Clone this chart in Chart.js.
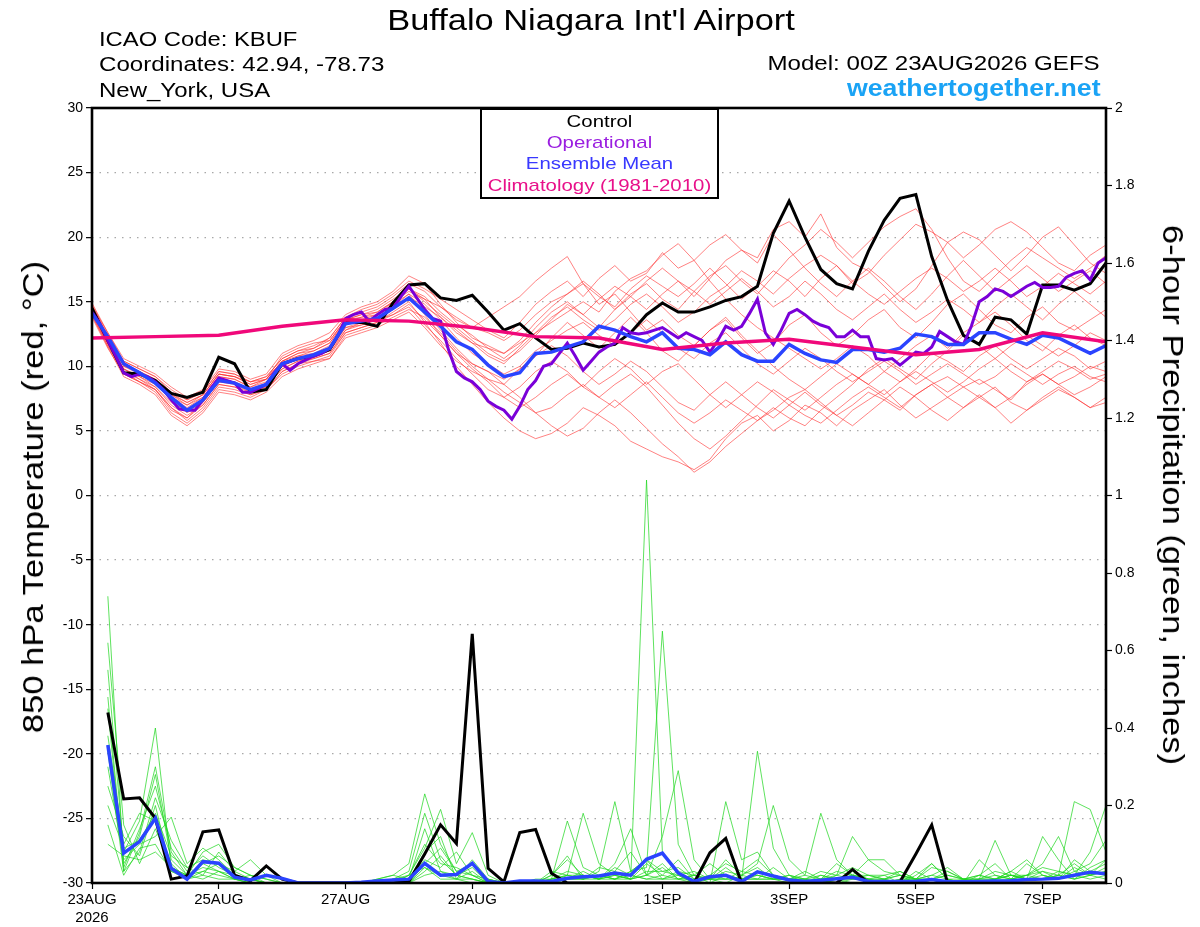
<!DOCTYPE html>
<html><head><meta charset="utf-8">
<script src="https://cdn.jsdelivr.net/npm/chart.js@4.4.1/dist/chart.umd.min.js"></script>
<style>
html,body{margin:0;padding:0;background:#fff;}
#wrap{position:relative;width:1200px;height:927px;overflow:hidden;font-family:'Liberation Sans',Arial,sans-serif;color:#000;background:#fff;}
#c{position:absolute;left:0;top:0;}
.t{position:absolute;white-space:nowrap;line-height:1;}
.l{transform-origin:left center;}
.r{transform-origin:right center;}
.m{transform-origin:center center;}
#legend{position:absolute;left:480px;top:108px;width:239px;height:91px;box-sizing:border-box;border:2px solid #000;background:#fff;}
</style></head><body>
<div id="wrap">
<canvas id="c" width="1200" height="927"></canvas>
<div class="t m" style="left:0;width:1182px;text-align:center;top:4.6px;font-size:30px;transform:scaleX(1.147);">Buffalo Niagara Int'l Airport</div>
<div class="t l" style="left:99px;top:29px;font-size:20px;transform:scaleX(1.19);">ICAO Code: KBUF</div>
<div class="t l" style="left:99px;top:54px;font-size:20px;transform:scaleX(1.205);">Coordinates: 42.94, -78.73</div>
<div class="t l" style="left:99px;top:80px;font-size:20px;transform:scaleX(1.2);">New_York, USA</div>
<div class="t r" style="right:100px;top:53px;font-size:20px;transform:scaleX(1.205);">Model: 00Z 23AUG2026 GEFS</div>
<div class="t r" style="right:99px;top:76.5px;font-size:23px;font-weight:bold;transform:scaleX(1.16);color:#1aa3f5;">weathertogether.net</div>
<div id="legend"></div>
<div class="t m" style="left:480px;width:239px;text-align:center;top:112.6px;font-size:17px;transform:scaleX(1.2);color:#000;">Control</div>
<div class="t m" style="left:480px;width:239px;text-align:center;top:133.6px;font-size:17px;transform:scaleX(1.2);color:#9a1ee0;">Operational</div>
<div class="t m" style="left:480px;width:239px;text-align:center;top:155.1px;font-size:17px;transform:scaleX(1.2);color:#3838ff;">Ensemble Mean</div>
<div class="t m" style="left:480px;width:239px;text-align:center;top:176.6px;font-size:17px;transform:scaleX(1.2);color:#e8108a;">Climatology (1981-2010)</div>
<div class="t" style="left:32.6px;top:496.5px;font-size:30px;transform:translate(-50%,-50%) rotate(-90deg) scaleX(1.152);">850 hPa Temperature (red, °C)</div>
<div class="t" style="left:1173.4px;top:495px;font-size:30px;transform:translate(-50%,-50%) rotate(90deg) scaleX(1.153);">6-hour Precipitation (green, inches)</div>
</div>
<script>
// ---------- categories / ticks ----------
const HOURS6 = Array.from({length:65},(_, i)=>i*6);     // 00Z 23AUG2026 + 0..384 h
const HOURS3 = Array.from({length:129},(_, i)=>i*3);    // operational run, 3-hourly
const HOURS_DAILY = Array.from({length:17},(_, i)=>i*24);
const PRECIP_HOURS = HOURS6.slice(1);                   // 6-hour totals end at 6..384 h
const X_TICK_HOURS = [0,48,96,144,216,264,312,360];
const X_TICK_LABELS = [["23AUG","2026"],"25AUG","27AUG","29AUG","1SEP","3SEP","5SEP","7SEP"];

// ---------- 850 hPa temperature (°C) ----------
const CONTROL_T = [
 14.5,12.0,9.5,9.4,8.9, 7.9,7.6,8.0,10.7,10.2, 8.0,8.2,10.2,10.6,10.8, 11.3,13.4,13.4,13.1,14.9,
 16.3,16.4,15.3,15.1,15.5, 14.2,12.8,13.3,12.2,11.3, 11.4,11.8,11.5,11.7,12.6, 14.0,14.9,14.2,14.2,14.6,
 15.1,15.4,16.2,20.3,22.8, 20.0,17.5,16.4,16.0,18.9, 21.3,23.0,23.3,18.5,15.1, 12.4,11.7,13.8,13.6,12.5,
 16.3,16.3,15.9,16.4,18.0];
const MEAN_T = [
 14.1,12.3,10.2,9.5,8.7, 7.6,6.6,7.4,8.9,8.7, 8.2,8.6,10.2,10.6,10.9, 11.4,13.3,13.5,13.7,14.5,
 15.3,14.2,13.1,11.9,11.3, 10.1,9.2,9.5,11.0,11.1, 11.5,11.9,13.1,12.8,12.3, 11.9,12.6,11.4,11.3,10.9,
 11.9,10.9,10.4,10.4,11.7, 11.0,10.5,10.3,11.3,11.3, 11.1,11.4,12.5,12.3,11.7, 11.7,12.6,12.6,12.1,11.7,
 12.4,12.2,11.6,11.0,11.6];
const OPER_T = [
 14.2,13.3,12.0,10.8,9.5,9.2,9.4,9.2,
 8.8,8.2,7.4,6.7,6.6,6.6,7.4,8.3,
 9.1,8.9,8.7,8.0,8.0,8.3,8.6,9.5,
 10.2,9.7,10.2,10.5,10.8,11.0,11.4,12.3,
 13.7,14.0,14.2,13.5,14.0,14.4,14.5,15.4,
 16.2,15.3,14.4,13.7,13.5,11.3,9.6,9.1,
 8.8,8.2,7.3,6.9,6.6,5.9,6.9,8.2,
 8.9,10.0,10.2,11.0,11.8,10.8,9.7,10.4,
 11.1,11.5,11.8,13.0,12.6,12.5,12.6,12.8,
 13.0,12.6,12.2,12.6,12.3,12.0,11.1,12.0,
 13.1,12.8,13.1,14.1,15.2,12.6,11.7,12.8,
 14.1,14.4,14.0,13.5,13.2,13.0,12.3,12.3,
 12.8,12.3,12.3,10.6,10.5,10.6,10.1,10.6,
 11.1,11.0,11.5,12.7,12.3,11.9,11.7,13.1,
 15.0,15.4,16.0,15.8,15.4,15.8,16.2,16.5,
 16.1,16.1,16.2,16.9,17.2,17.4,16.7,18.0,
 18.4];
const CLIM_T = [12.2,12.3,12.4,13.1,13.6,13.5,13.0,12.3,12.2,11.3,11.8,12.1,11.5,10.9,11.3,12.6,11.9];

const MEMBER_T1 = [14.8,12.4,10.1,9.6,9.0, 7.9,7.2,7.8,9.4,9.2, 8.8,9.2,10.6,11.2,11.6, 12.2,13.8,14.4,14.8,15.6, 16.6,16.0,15.2,14.4,13.6, 12.8,12.2,13.4,14.8,15.8, 16.6,15.4,16.8,17.8,16.6, 17.2,18.8,17.6,18.2,19.4, 20.2,19.0,18.4,20.6,21.2, 20.0,21.8,19.2,18.0,17.4, 16.2,15.0,16.0,17.8,19.6, 20.4,19.8,18.6,17.4,18.6, 20.0,20.8,19.4,18.0,17.2];
const MEMBER_T2 = [14.2,11.6,9.6,9.0,8.2, 6.8,5.8,6.8,8.4,8.2, 7.8,8.2,9.6,10.2,10.4, 10.8,12.6,13.0,13.4,14.2, 15.0,13.4,11.8,10.0,8.6, 7.2,6.0,5.0,4.4,4.8, 5.6,6.8,6.2,5.4,4.2, 3.6,3.0,2.6,2.0,2.8, 4.4,5.6,6.2,5.0,5.8, 7.0,6.4,5.4,6.6,7.4, 8.2,7.0,6.0,6.8,7.6, 8.4,9.0,8.2,7.4,8.8, 9.4,8.6,9.2,10.0,9.6];
const MEMBER_T3 = [14.6,12.2,10.4,9.8,9.2, 8.2,7.4,8.0,9.6,9.4, 8.8,9.0,10.8,11.4,11.8, 12.0,13.6,13.8,14.0,15.0, 15.8,15.2,14.6,13.6,13.0, 13.8,14.6,15.4,16.6,17.6, 18.5,16.4,14.8,15.6,14.2, 12.8,13.6,12.4,11.6,12.8, 13.6,12.2,11.0,11.8,13.2, 14.0,12.6,11.6,12.4,13.6, 14.4,13.0,12.2,13.4,14.8, 15.6,14.4,13.2,12.6,13.8, 14.6,13.4,12.8,13.6,14.4];
const MEMBER_T4 = [14.0,11.8,9.8,9.2,8.6, 7.4,6.4,7.2,8.8,8.6, 8.0,8.6,10.0,10.6,10.8, 11.4,13.0,13.4,13.6,14.4, 15.4,14.6,13.8,12.6,11.8, 10.8,10.2,11.4,12.6,13.4, 14.2,15.0,14.2,15.8,16.8, 17.4,18.6,19.5,18.2,16.6, 15.2,14.0,13.0,12.2,11.4, 10.6,9.8,10.6,11.6,10.8, 9.6,8.8,9.8,11.0,10.4, 9.6,10.8,11.6,10.6,9.8, 10.6,11.4,10.8,9.8,10.4];
const MEMBER_T5 = [13.8,11.4,9.4,8.8,8.0, 6.4,5.6,6.6,8.2,8.0, 7.6,8.2,9.4,10.0,10.4, 10.6,12.4,12.8,13.2,13.8, 14.4,13.8,12.6,11.2,10.0, 9.0,8.0,7.2,6.4,6.8, 7.8,8.6,7.6,6.8,7.8, 8.8,7.6,6.4,5.6,6.4, 7.4,6.6,5.8,6.6,7.6, 8.2,7.2,6.2,7.0,8.0, 7.4,6.6,7.8,8.6,7.6, 6.8,7.6,8.4,7.2,6.6, 7.4,8.2,7.6,6.8,7.2];
const MEMBER_T6 = [14.9,12.6,10.6,10.0,9.4, 8.4,7.6,8.2,9.8,9.6, 9.0,9.4,11.0,11.6,12.0, 12.6,14.0,14.6,15.0,15.8, 17.0,16.4,14.8,13.4,12.2, 11.6,11.0,11.8,12.6,13.8, 14.6,13.6,12.8,13.6,14.8, 15.6,14.6,13.4,14.2,15.4, 16.2,17.4,16.6,15.6,16.8, 17.8,18.6,17.8,16.4,17.2, 18.6,19.8,21.0,20.4,19.6, 18.4,19.4,20.6,21.2,20.4, 19.2,18.0,17.4,18.6,19.4];
const MEMBER_T7 = [14.4,12.0,10.0,9.4,8.8, 7.6,6.8,7.6,9.2,9.0, 8.4,8.8,10.2,10.8,11.0, 11.6,13.4,13.6,14.0,14.8, 15.6,14.8,13.6,12.2,11.0, 10.2,9.4,10.0,11.2,12.0, 12.8,13.4,12.4,11.6,12.6, 13.6,12.6,11.4,10.6,11.8, 12.6,11.4,10.2,9.4,10.4, 11.4,10.6,9.6,8.8,9.6, 10.4,9.6,8.6,9.4,10.2, 9.4,8.6,9.2,10.2,9.4, 8.6,9.4,10.0,9.2,8.8];
const MEMBER_T8 = [14.1,11.8,9.8,9.0,8.4, 7.0,6.2,7.0,8.6,8.4, 8.0,8.4,9.8,10.4,10.6, 11.0,12.8,13.2,13.6,14.0, 14.6,13.2,12.0,10.6,9.4, 8.2,7.6,8.4,9.6,10.4, 9.6,8.4,7.6,8.6,9.4, 8.4,7.0,5.6,4.4,3.6, 4.6,5.8,7.0,8.2,7.4, 6.6,7.6,8.6,9.4,8.6, 7.8,8.8,9.6,8.8,8.0, 8.8,9.8,10.6,9.6,8.8, 9.6,10.4,9.8,9.0,9.4];
const MEMBER_T9 = [14.6,12.2,10.0,9.6,9.0, 7.8,7.0,7.8,9.4,9.2, 8.6,9.0,10.4,11.0,11.4, 12.0,13.6,14.0,14.4,15.2, 16.0,15.4,14.2,13.2,12.4, 11.4,10.6,11.6,13.0,14.2, 15.0,14.0,13.0,14.4,15.6, 16.4,15.2,14.4,15.8,17.0, 17.8,16.6,15.6,17.0,18.4, 19.4,20.6,19.6,18.4,19.6, 20.8,21.6,22.2,20.6,18.4, 16.6,15.8,17.0,18.2,19.2, 18.4,17.6,16.8,17.6,18.6];
const MEMBER_T10 = [14.3,11.9,9.6,8.8,8.2, 6.6,6.0,7.2,8.8,8.8, 8.2,8.4,9.8,10.4,10.8, 11.2,12.8,13.4,13.8,14.6, 15.6,14.0,12.4,11.0,9.8, 8.8,7.6,6.8,7.6,8.6, 9.4,8.4,9.6,10.6,9.8, 8.6,9.6,10.2,9.0,7.8, 6.8,7.8,8.8,8.0,7.0, 6.2,5.6,6.6,7.6,8.4, 7.6,6.8,7.8,8.6,9.2, 8.4,7.6,6.8,7.6,8.6, 9.4,8.6,7.8,8.4,9.2];
const MEMBER_T11 = [14.7,12.6,10.4,9.8,9.2, 8.0,7.4,8.0,9.6,9.4, 8.8,9.2,10.6,11.2,11.4, 12.2,13.8,14.2,14.6,15.4, 16.4,15.8,14.6,13.8,13.0, 12.6,12.0,12.8,14.0,15.0, 15.6,16.4,15.4,14.6,16.0, 17.0,16.2,15.4,16.4,17.6, 16.4,15.2,16.2,17.4,16.6, 15.4,16.8,17.8,16.6,15.6, 14.8,15.8,16.8,17.6,16.8, 15.8,16.6,17.6,16.6,15.4, 16.2,17.2,16.4,15.6,16.6];
const MEMBER_T12 = [14.0,11.5,9.2,8.6,7.8, 6.2,5.4,6.4,8.0,7.8, 7.4,8.0,9.2,9.8,10.2, 10.6,12.2,12.6,13.0,13.6, 14.2,13.0,11.6,10.4,9.6, 9.0,8.6,9.8,10.8,12.2, 13.4,12.4,11.4,12.6,13.8, 12.6,11.2,10.4,11.6,12.8, 13.8,12.4,11.2,10.0,9.0, 8.2,9.2,10.2,9.4,8.6, 9.6,10.6,11.6,12.4,11.4, 12.6,13.4,14.2,13.2,12.0, 11.2,12.4,13.2,12.2,11.6];
const MEMBER_T13 = [14.2,11.8,9.8,9.2,8.4, 7.2,6.6,7.4,9.0,8.8, 8.2,8.6,10.0,10.6,10.8, 11.2,13.0,13.2,13.6,14.4, 15.2,14.2,12.8,11.4,10.2, 9.6,8.6,7.6,6.4,5.4, 4.6,5.2,6.4,7.4,6.4, 5.2,4.0,3.0,1.8,2.6, 3.8,4.8,5.8,6.8,6.0, 5.4,6.6,7.6,8.6,9.8, 10.6,9.8,9.0,10.2,11.2, 12.4,11.6,10.6,11.6,12.4, 11.6,10.8,11.6,12.6,12.0];
const MEMBER_T14 = [14.5,12.1,10.2,9.6,8.8, 7.6,7.0,7.6,9.2,9.0, 8.4,9.0,10.4,10.8,11.2, 11.8,13.4,13.8,14.2,15.0, 16.0,15.0,14.0,13.0,12.0, 11.0,10.4,11.2,12.4,13.6, 14.8,14.0,15.2,16.2,15.4, 14.4,15.6,16.6,15.8,14.8, 15.8,16.8,15.8,14.6,15.4, 16.6,15.6,14.4,13.6,14.6, 15.6,14.4,13.4,14.2,15.2, 14.4,13.4,14.6,15.6,14.6, 13.6,14.8,15.8,14.8,13.8];
const MEMBER_T15 = [13.9,11.6,9.4,8.8,8.2, 6.8,6.0,7.0,8.6,8.4, 7.8,8.2,9.6,10.2,10.6, 11.0,12.6,13.0,13.4,14.0, 14.8,13.6,12.4,11.0,10.2, 9.6,9.0,9.8,10.8,11.6, 10.8,9.6,8.6,9.4,10.4, 9.6,8.4,7.2,6.6,7.8, 8.8,7.8,6.8,6.0,7.0, 8.0,7.0,6.2,5.4,6.4, 7.4,8.4,7.6,6.6,5.8, 6.8,7.8,6.8,5.6,6.6, 7.6,8.4,7.6,6.8,7.6];
const MEMBER_T16 = [14.6,12.3,10.3,9.5,8.9, 7.8,7.2,7.8,9.4,9.2, 8.6,9.0,10.4,11.0,11.2, 11.8,13.6,14.0,14.2,15.0, 16.0,15.2,13.8,12.8,11.8, 11.4,11.0,12.0,13.4,14.6, 15.6,16.6,15.6,14.4,15.4, 16.6,17.6,16.6,15.4,16.8, 18.2,19.0,18.0,20.2,19.0, 17.6,16.4,15.4,16.6,17.6, 16.6,15.4,14.4,15.6,17.0, 18.2,17.0,15.8,16.8,17.8, 16.8,15.8,16.6,17.4,16.4];
const MEMBERS_T = [MEMBER_T1,MEMBER_T2,MEMBER_T3,MEMBER_T4,MEMBER_T5,MEMBER_T6,MEMBER_T7,MEMBER_T8,
                   MEMBER_T9,MEMBER_T10,MEMBER_T11,MEMBER_T12,MEMBER_T13,MEMBER_T14,MEMBER_T15,MEMBER_T16];

// ---------- 6-hour precipitation (inches), valid 6..384 h ----------
const CONTROL_P = [
 0.44,0.217,0.22,0.167,0.01,0.018,0.132,0.137,
 0.02,0.006,0.044,0.01,0,0,0,0,
 0,0,0,0.004,0.075,0.15,0.102,0.643,
 0.038,0.003,0.13,0.138,0.025,0,0,0,
 0,0,0,0,0,0,0.078,0.115,
 0,0,0,0,0,0,0,0.035,
 0,0,0.003,0.075,0.15,0,0,0,
 0,0,0,0,0,0,0,0];
const MEAN_P = [
 0.356,0.077,0.107,0.167,0.038,0.01,0.055,0.051,
 0.015,0.008,0.02,0.012,0,0,0,0,
 0.002,0.005,0.008,0.01,0.051,0.02,0.022,0.051,
 0.004,0,0.005,0.005,0.004,0.012,0.016,0.018,
 0.026,0.02,0.061,0.077,0.026,0.004,0.016,0.02,
 0.004,0.029,0.018,0.008,0.004,0.007,0.011,0.015,
 0.004,0.004,0.004,0.004,0.009,0.003,0.003,0.004,
 0.005,0.006,0.009,0.01,0.012,0.02,0.028,0.024];
const MEMBER_P1 = [0.74,0.05,0.12,0.28,0.06,0.02,0.08,0.10, 0.04,0.02,0.01,0,0,0,0,0, 0,0,0.01,0.03,0.18,0.06,0.02,0.01, 0,0,0,0,0.02,0.06,0.02,0.01, 0.03,0.01,1.04,0.08,0.02,0,0.01,0.04, 0.01,0.02,0.01,0,0,0.02,0.01,0, 0,0.01,0.03,0.01,0,0,0,0.02, 0.01,0.03,0.06,0.02,0.01,0.04,0.02,0.01];
const MEMBER_P2 = [0.55,0.08,0.16,0.40,0.04,0.01,0.05,0.03, 0.02,0.01,0,0,0,0,0,0, 0,0.01,0.02,0.05,0.23,0.10,0.03,0.02, 0,0,0,0.01,0.01,0.16,0.04,0.02, 0.01,0.03,0.04,0.65,0.10,0.02,0,0.02, 0.01,0.34,0.09,0.02,0,0.01,0.03,0.02, 0.01,0,0,0.02,0.05,0.01,0,0, 0,0.01,0.02,0.05,0.12,0.03,0.02,0.06];
const MEMBER_P3 = [0.45,0.03,0.08,0.22,0.11,0.04,0.06,0.05, 0.03,0.06,0.02,0,0,0,0,0, 0,0,0,0.02,0.09,0.19,0.05,0.13, 0.02,0,0,0,0.03,0.02,0.18,0.05, 0.02,0.01,0.02,0.12,0.29,0.06,0.01,0, 0.02,0.05,0.20,0.06,0.02,0.18,0.06,0.02, 0.02,0.01,0,0,0.01,0.02,0.01,0.01, 0.11,0.02,0.01,0.03,0.02,0.21,0.19,0.08];
const MEMBER_P4 = [0.38,0.10,0.18,0.16,0.05,0.01,0.03,0.02, 0.01,0,0,0,0,0,0,0, 0,0,0.01,0.01,0.06,0.04,0.08,0.02, 0,0,0,0,0,0.02,0.01,0.03, 0.21,0.03,0.06,0.03,0.02,0,0,0.21, 0.06,0.08,0.02,0.01,0,0,0.02,0.12, 0.06,0.03,0.02,0,0.01,0.03,0.01,0, 0.01,0.02,0.01,0.01,0.03,0.02,0.08,0.20];
const MEMBER_P5 = [0.30,0.06,0.10,0.12,0.17,0.05,0.09,0.06, 0.02,0.01,0.02,0.01,0,0,0,0, 0,0,0,0,0.03,0.07,0.02,0.04, 0,0,0,0,0.01,0.03,0.02,0.01, 0.05,0.14,0.02,0.04,0.01,0.02,0.01,0.03, 0.02,0.01,0.04,0.01,0.01,0.02,0.01,0.02, 0.06,0.06,0.02,0.01,0.05,0.01,0,0.01, 0.02,0.01,0.05,0.02,0.01,0.06,0.03,0.02];
const MEMBER_P6 = [0.25,0.12,0.07,0.20,0.03,0.02,0.04,0.03, 0.01,0.02,0,0,0,0,0,0, 0,0,0,0,0.04,0.02,0.01,0.06, 0.01,0,0,0,0,0.01,0.03,0.01, 0.02,0.01,0.05,0.02,0.01,0,0.02,0.01, 0.03,0.02,0.01,0.02,0.01,0,0.01,0.03, 0.01,0,0.01,0.01,0.02,0.01,0,0.06, 0.02,0.01,0.01,0.12,0.06,0.01,0.02,0.04];
const MEMBER_P7 = [0.48,0.04,0.14,0.25,0.09,0.03,0.07,0.04, 0.02,0.01,0,0,0,0,0,0, 0,0.01,0.02,0.01,0.14,0.03,0.02,0.01, 0,0,0,0,0.01,0.01,0.02,0.01, 0.04,0.02,0.01,0.02,0.06,0.01,0.01,0.02, 0.01,0.02,0.01,0.01,0.03,0.01,0,0.01, 0.02,0.01,0,0.03,0.01,0,0,0.01, 0.01,0.03,0.01,0.02,0.01,0.03,0.05,0.11];
const MEMBER_P8 = [0.20,0.09,0.11,0.18,0.07,0.04,0.02,0.08, 0.03,0.01,0,0,0,0,0,0, 0,0,0,0.01,0.08,0.12,0.01,0, 0,0,0,0,0.02,0.07,0.01,0.02, 0.01,0.03,0.06,0.01,0.03,0.02,0.05,0.02, 0.01,0.03,0.02,0.01,0.02,0.01,0.01,0.02, 0.01,0.02,0,0.01,0.04,0.03,0.01,0, 0.01,0.02,0.01,0.01,0.02,0.05,0.02,0.03];
const MEMBER_P9 = [0.62,0.15,0.05,0.14,0.04,0.02,0.05,0.07, 0.04,0.02,0.01,0,0,0,0,0, 0,0,0,0.02,0.10,0.05,0.04,0.02, 0.01,0,0,0,0.01,0.02,0.01,0.04, 0.03,0.08,0.02,0.05,0.01,0.01,0.02,0.05, 0.03,0.06,0.02,0.01,0,0.01,0.02,0.04, 0.02,0.02,0.03,0.01,0.01,0,0.01,0.02, 0.05,0.01,0.02,0.04,0.03,0.02,0.01,0.02];
const MEMBER_P10 = [0.15,0.02,0.09,0.10,0.03,0.01,0.02,0.01, 0.01,0,0,0,0,0,0,0, 0,0,0.01,0.02,0.04,0.01,0.01,0.03, 0,0,0,0,0,0.01,0.01,0.02, 0.01,0.02,0.01,0.01,0.02,0.03,0.01,0.01, 0.01,0.01,0.01,0.02,0.01,0.01,0.05,0.02, 0.01,0.01,0.02,0.01,0.02,0.04,0.01,0.02, 0.01,0.01,0.02,0.01,0.02,0.01,0.04,0.06];
const MEMBER_P11 = [0.34,0.03,0.13,0.30,0.08,0.02,0.03,0.05, 0.01,0.01,0,0,0,0,0,0, 0,0,0.01,0,0.05,0.09,0.03,0.05, 0.01,0,0,0,0.01,0.02,0.02,0.01, 0.02,0.01,0.03,0.03,0.04,0.01,0.01,0.06, 0.02,0.04,0.01,0.01,0.01,0.03,0.02,0.01, 0.01,0.01,0.02,0.01,0.01,0.02,0.01,0.01, 0.03,0.02,0.02,0.03,0.01,0.02,0.03,0.05];
const MEMBER_P12 = [0.10,0.07,0.06,0.08,0.04,0.02,0.01,0.03, 0.01,0,0,0,0,0,0,0, 0,0,0,0,0.02,0.03,0.01,0.01, 0,0,0,0,0,0.01,0.01,0.01, 0.01,0.01,0.02,0.01,0.01,0.02,0.01,0.01, 0.01,0.01,0.01,0.01,0.01,0,0.01,0.01, 0.01,0,0.01,0.01,0,0.01,0.01,0.01, 0.01,0.02,0.01,0.01,0.02,0.01,0.02,0.03];
const MEMBERS_P = [MEMBER_P1,MEMBER_P2,MEMBER_P3,MEMBER_P4,MEMBER_P5,MEMBER_P6,
                   MEMBER_P7,MEMBER_P8,MEMBER_P9,MEMBER_P10,MEMBER_P11,MEMBER_P12];

// ---------- build chart ----------
function pts(hours, vals){ return vals.map((v,i)=>({x:hours[i], y:v})); }
const FONT = "'Liberation Sans', Arial, sans-serif";
Chart.defaults.font.family = FONT;
Chart.defaults.color = '#000';

const datasets = [];
datasets.push({label:'Climatology', data:pts(HOURS_DAILY, CLIM_T), yAxisID:'y', borderColor:'#f0087a', borderWidth:3.5, order:0});
datasets.push({label:'Ensemble Mean', data:pts(HOURS6, MEAN_T), yAxisID:'y', borderColor:'#2a44ff', borderWidth:3.5, order:1});
datasets.push({label:'Operational', data:pts(HOURS3, OPER_T), yAxisID:'y', borderColor:'#7a00d8', borderWidth:3, order:2});
datasets.push({label:'Control', data:pts(HOURS6, CONTROL_T), yAxisID:'y', borderColor:'#000', borderWidth:3, order:3});
datasets.push({label:'Mean precip', data:pts(PRECIP_HOURS, MEAN_P), yAxisID:'y2', borderColor:'#2a44ff', borderWidth:3.5, order:4});
datasets.push({label:'Control precip', data:pts(PRECIP_HOURS, CONTROL_P), yAxisID:'y2', borderColor:'#000', borderWidth:3, order:5});
MEMBERS_P.forEach((m,k)=>datasets.push({label:'P member '+(k+1), data:pts(PRECIP_HOURS, m), yAxisID:'y2', borderColor:'rgba(30,215,30,0.9)', borderWidth:0.8, order:10}));
MEMBERS_T.forEach((m,k)=>datasets.push({label:'T member '+(k+1), data:pts(HOURS6, m), yAxisID:'y', borderColor:'rgba(255,45,45,0.75)', borderWidth:0.8, order:11}));

const framePlugin = {
  id:'frame',
  afterDatasetsDraw(chart){
    const {ctx, chartArea:a} = chart;
    ctx.save();
    ctx.strokeStyle = '#000';
    ctx.lineWidth = 2.6;
    ctx.strokeRect(a.left, a.top, a.right - a.left, a.bottom - a.top);
    ctx.restore();
  }
};

new Chart(document.getElementById('c').getContext('2d'), {
  type:'line',
  data:{datasets},
  options:{
    responsive:false, animation:false, devicePixelRatio:1,
    parsing:true, normalized:true,
    layout:{padding:{left:0,right:0,top:108,bottom:0}},
    elements:{point:{radius:0, hitRadius:0}, line:{tension:0, fill:false, borderCapStyle:'butt', borderJoinStyle:'miter'}},
    plugins:{legend:{display:false}, tooltip:{enabled:false}, title:{display:false}},
    scales:{
      x:{
        type:'linear', min:0, max:384, position:'bottom',
        afterBuildTicks:(s)=>{ s.ticks = X_TICK_HOURS.map(v=>({value:v})); },
        afterFit:(s)=>{ s.height = 44; },
        ticks:{autoSkip:false, maxRotation:0, minRotation:0, padding:2, font:{size:15, family:FONT}, color:'#000',
          callback:(v)=>{ const k = X_TICK_HOURS.indexOf(v); return k>=0 ? X_TICK_LABELS[k] : ''; }},
        grid:{display:true, drawOnChartArea:false, drawTicks:true, tickLength:6, tickColor:'#000', tickWidth:1.2, color:'#000'},
        border:{display:false}
      },
      y:{
        type:'linear', position:'left', min:-30, max:30,
        afterFit:(s)=>{ s.width = 92; },
        ticks:{stepSize:5, padding:3, font:{size:14, family:FONT}, color:'#000'},
        grid:{display:true, drawOnChartArea:true, drawTicks:true, tickLength:6, tickColor:'#000', tickWidth:1.2, color:'#a8a8a8', lineWidth:1.3},
        border:{display:false, dash:[1.5,6]}
      },
      y2:{
        type:'linear', position:'right', min:0, max:2,
        afterFit:(s)=>{ s.width = 94; },
        ticks:{stepSize:0.2, padding:3, font:{size:14, family:FONT}, color:'#000',
          callback:(v)=>String(Math.round(v*10)/10)},
        grid:{display:true, drawOnChartArea:false, drawTicks:true, tickLength:6, tickColor:'#000', tickWidth:1.2},
        border:{display:false}
      }
    }
  },
  plugins:[framePlugin]
});
</script>
</body></html>
